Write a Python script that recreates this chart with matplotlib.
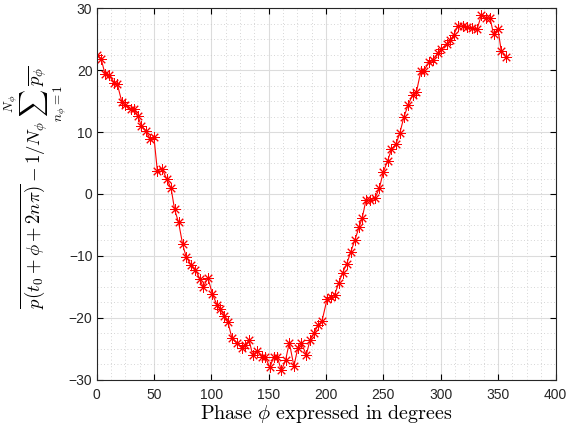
import matplotlib
matplotlib.use("Agg")
import matplotlib.pyplot as plt
from matplotlib.ticker import MultipleLocator

plt.rcParams["mathtext.fontset"] = "cm"
plt.rcParams["font.family"] = ["Liberation Sans", "DejaVu Sans"]

# phase in degrees
phase = [0, 4, 7.5, 10.5, 15.5, 18, 22, 25, 30, 33, 36, 39, 43, 47, 50,
         53, 57, 61, 65, 68, 71.5, 75, 78, 82.5, 86, 90, 93, 97, 101, 105,
         108, 111.5, 114.5, 118, 122.5, 127, 129.6, 133, 136, 140, 144.5, 147,
         151, 154.5, 157.5, 161, 164.8, 168, 172, 175.5, 178.5, 182.8, 186,
         189.5, 193, 196.5, 201, 204.5, 207.5, 211, 214.5, 218, 221.5, 225,
         228.7, 231.5, 234.8, 238, 242.6, 246.4, 250, 253.6, 257, 261, 264.3,
         267.8, 271.6, 275.4, 278.8, 282.6, 285.2, 289.8, 292.8, 297.7, 300.6,
         305, 308.4, 311.3, 315, 319.4, 322.9, 327.6, 331.6, 335.4, 339, 343,
         346, 349.8, 352.7, 357]
# mean-removed pressure values
pdiff = [22.5, 21.8, 19.3, 19.2, 18.0, 17.8, 14.9, 14.4, 13.7, 13.7, 12.6,
         11.0, 10.2, 8.8, 9.2, 3.7, 4.1, 2.5, 0.9, -2.5, -4.6, -8.1, -10.1,
         -11.5, -12.2, -13.7, -15.1, -13.5, -16.2, -17.9, -18.6, -19.7, -20.7,
         -23.3, -24.1, -24.8, -24.4, -23.6, -26.0, -25.3, -26.3, -26.3, -28.0,
         -26.3, -26.3, -28.5, -26.8, -24.0, -27.8, -24.8, -24.1, -26.0, -23.6,
         -22.5, -21.2, -20.5, -16.9, -16.6, -16.3, -14.4, -12.7, -11.3, -9.4,
         -7.5, -5.4, -3.9, -1.0, -1.0, -0.7, 0.9, 3.6, 5.3, 7.2, 8.1, 9.8,
         12.4, 14.4, 16.0, 16.5, 19.8, 19.9, 21.3, 21.6, 22.8, 23.4, 24.2,
         24.8, 25.7, 27.2, 27.1, 26.9, 26.8, 26.6, 28.9, 28.5, 28.4, 25.8,
         26.7, 23.1, 22.1]

fig = plt.figure(figsize=(5.68, 4.33), dpi=100)
ax = fig.add_axes([0.170, 0.123, 0.808, 0.858])

ax.plot(phase, pdiff, color="red", lw=0.8, marker=(8, 2, 0), ms=7.5, mew=0.7)

ax.set_xlim(0, 400)
ax.set_ylim(-30, 30)
ax.xaxis.set_major_locator(MultipleLocator(50))
ax.xaxis.set_minor_locator(MultipleLocator(12.5))
ax.yaxis.set_major_locator(MultipleLocator(10))
ax.yaxis.set_minor_locator(MultipleLocator(2.5))
ax.grid(which="major", color="#dcdcdc", lw=0.8)
ax.grid(which="minor", color="#c8c8c8", lw=0.6, ls=(0, (1, 3)))
ax.set_axisbelow(True)
ax.tick_params(which="major", direction="in", top=True, right=True,
               length=4, labelsize=10, labelcolor="#262626", pad=3)
ax.tick_params(axis="x", pad=6)
ax.tick_params(which="minor", length=0)
for s in ax.spines.values():
    s.set_color("#262626")
    s.set_linewidth(0.8)

ax.set_xlabel(r"$\mathrm{Phase}\ \phi\ \mathrm{expressed\ in\ degrees}$",
              fontsize=14.5, labelpad=1)
ax.set_ylabel(r"$\overline{p(t_0+\phi+2n\pi)} - 1/N_\phi\sum_{n_\phi=1}^{N_\phi}\overline{p_\phi}$",
              fontsize=13.5)
ax.yaxis.set_label_coords(-0.061, 0.52)

fig.savefig("out.png", dpi=100)
